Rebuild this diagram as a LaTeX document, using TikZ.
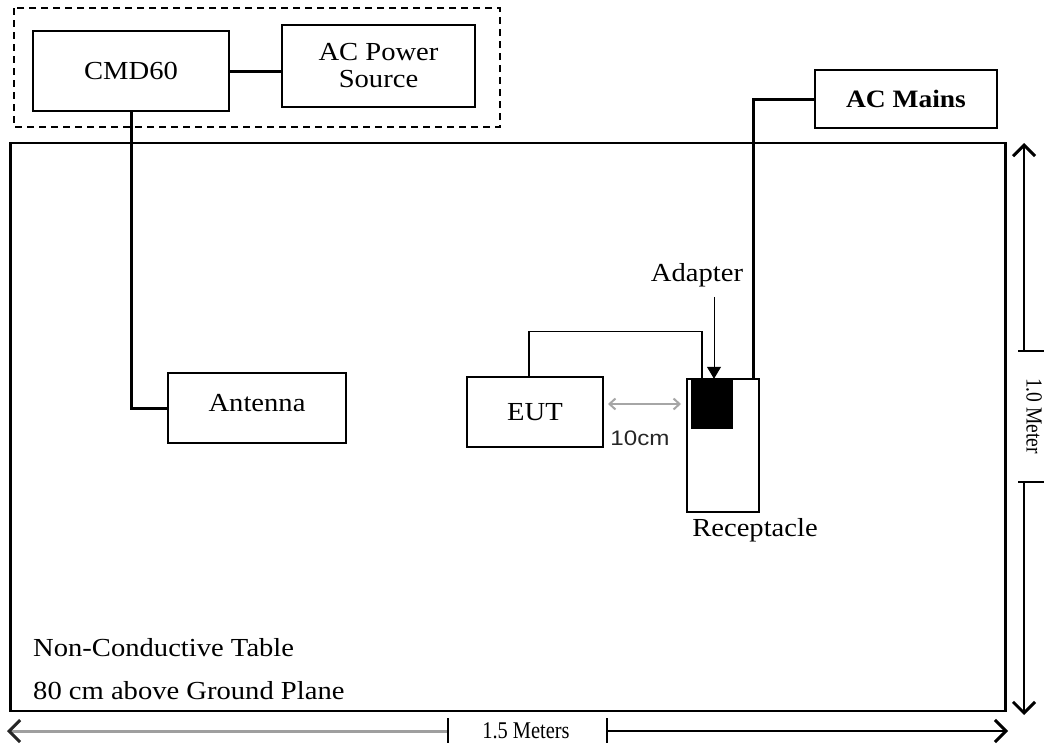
\documentclass[tikz,border=0pt]{standalone}
\usepackage{fontspec}
\setmainfont{Liberation Serif}[FakeStretch=1.1]
\newfontfamily\condfont{Liberation Serif}[FakeStretch=0.85]
\newfontfamily\sansf{Liberation Sans}[FakeStretch=1.15]
\usetikzlibrary{arrows.meta}
\begin{document}
\begin{tikzpicture}[x=1pt,y=-1pt,
  box/.style={draw, line width=1.3pt, inner sep=0pt, font=\fontsize{26}{27}\selectfont, align=center},
  thickline/.style={line width=3pt},
  thinline/.style={line width=1.3pt},
  lbl/.style={inner sep=0pt, font=\fontsize{26}{28}\selectfont},
  dimtip/.style={-{Straight Barb[length=11pt,width=22pt,line width=3pt]}},
]
\useasboundingbox (0,0) rectangle (1044,747);
% dashed enclosure
\draw[dashed, line width=1.3pt, dash pattern=on 7pt off 5pt] (14,8) rectangle (500,127);
% boxes
\node[box, minimum width=196pt, minimum height=80pt] (cmd) at (131,71) {CMD60};
\node[box, minimum width=193pt, minimum height=82pt] (ps) at (378.5,66) {AC Power\\Source};
\node[box, minimum width=182pt, minimum height=58pt, font=\fontsize{25}{28}\selectfont\bfseries] (mains) at (906,99) {AC Mains};
\node[draw, line width=2.5pt, minimum width=995pt, minimum height=568pt, inner sep=0pt] (table) at (508,427) {};
\node[box, minimum width=178pt, minimum height=70pt, text depth=0pt] (ant) at (257,408) {\raisebox{11pt}{Antenna}};
\node[box, minimum width=136pt, minimum height=70pt] (eut) at (535,412) {EUT};
\node[box, minimum width=72pt, minimum height=133pt] (rec) at (723,445.5) {};
\node[fill=black, minimum width=42pt, minimum height=50pt, inner sep=0pt] (adapter) at (712,404) {};
% labels
\node[lbl] (adlbl) at (697,275) {Adapter};
\node[lbl] (reclbl) at (755,530) {Receptacle};
\node[inner sep=0pt, font=\fontsize{21}{24}\sansf, text=black!85] (cmlbl) at (640,438) {10cm};
\node[lbl, anchor=west] (t1) at (33,648) {Non-Conductive Table};
\node[lbl, anchor=west] (t2) at (33,691) {80 cm above Ground Plane};
% connectors
\draw[thickline] (cmd.east) -- (ps.west |- cmd.east);
\draw[thickline] (cmd.south) -- (cmd.south |- ant.west) -- (ant.west);
\draw[thickline] (mains.west) -| ([xshift=-6pt]rec.north east);
\draw[thinline] ([xshift=-6pt]eut.north) -- ++(0,-45) -| ([xshift=-21pt]rec.north);
\draw[line width=1pt, -{Triangle[length=12pt,width=14pt]}] ([xshift=2pt]adapter.north |- adlbl.south) ++(0,10) -- ([xshift=2pt]adapter.north);
% 10cm dimension
\coordinate (d1) at (608,404);
\coordinate (d2) at (681,404);
\draw[line width=2pt, gray!70, {Straight Barb[length=6pt,width=11pt]}-{Straight Barb[length=6pt,width=11pt]}] (d1) -- (d2);
% vertical dimension
\coordinate (vt) at (1024,351);
\coordinate (vb) at (1024,482);
\coordinate (vtop) at (1024,143);
\coordinate (vbot) at (1024,715);
\draw[thinline, dimtip] (vt) -- (vtop);
\draw[thinline, dimtip] (vb) -- (vbot);
\draw[thinline] (1018,351) -- (1044,351);
\draw[thinline] (1018,482) -- (1044,482);
\node[rotate=-90, inner sep=0pt, font=\fontsize{23}{24}\condfont] (vlbl) at (1034,416) {1.0 Meter};
% horizontal dimension
\coordinate (hl) at (448,731);
\coordinate (hr) at (607,731);
\coordinate (hleft) at (7,731);
\coordinate (hright) at (1008,731);
\draw[line width=3pt, draw=gray!75, -{Straight Barb[length=11pt,width=22pt,line width=3pt,color=black!85]}] (hl) -- (hleft);
\draw[thinline, dimtip] (hr) -- (hright);
\draw[thinline] (448,718) -- (448,743);
\draw[thinline] (607,718) -- (607,743);
\node[inner sep=0pt, font=\fontsize{24}{24}\condfont] (hlbl) at (526,731) {1.5 Meters};
\end{tikzpicture}
\end{document}
